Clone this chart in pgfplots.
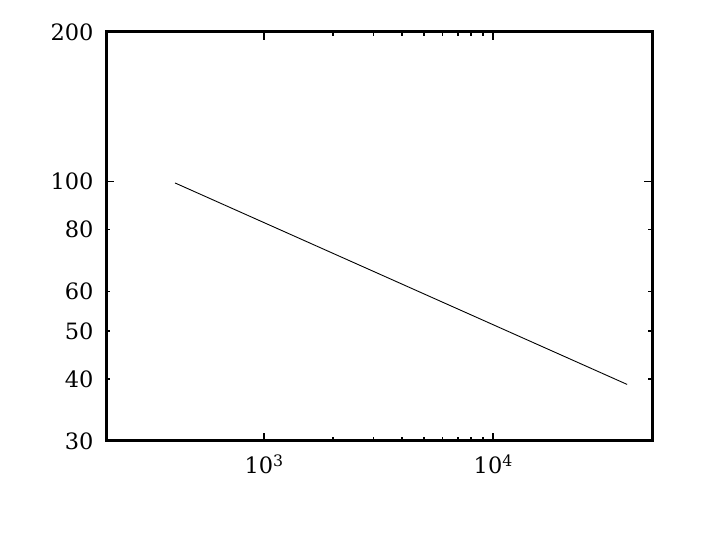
\documentclass[border=0pt]{standalone}
\usepackage{pgfplots}
\pgfplotsset{compat=1.18}
\usepackage{fontspec}
\setmainfont{DejaVu Serif}
\begin{document}
\begin{tikzpicture}[x=1pt,y=1pt]
\path (0,0) rectangle (718,533);
\begin{axis}[
  at={(106pt,92pt)}, anchor=south west,
  scale only axis, width=546pt, height=409pt,
  xmode=log, ymode=log,
  xmin=204, xmax=49300, ymin=30, ymax=200,
  axis line style={line width=3pt},
  tick style={line width=1.8pt, black},
  major tick length=8pt, minor tick length=4pt,
  tick align=inside,
  /pgf/number format/assume math mode=true,
  xtick={1000,10000},
  xticklabels={10\textsuperscript{3},10\textsuperscript{4}},
  ytick={100},
  yticklabels={100},
  extra y ticks={30,40,50,60,80,200},
  extra y tick labels={30,40,50,60,80,200},
  extra y tick style={major tick length=4pt},
  ticklabel style={font=\fontsize{22.5}{27}\selectfont},
  xticklabel style={yshift=-10pt},
  yticklabel style={xshift=-9pt},
  clip=false,
]
\addplot[black, line width=0.9pt] coordinates {(408,99.3) (38400,39.0)};
\end{axis}
\end{tikzpicture}
\end{document}
